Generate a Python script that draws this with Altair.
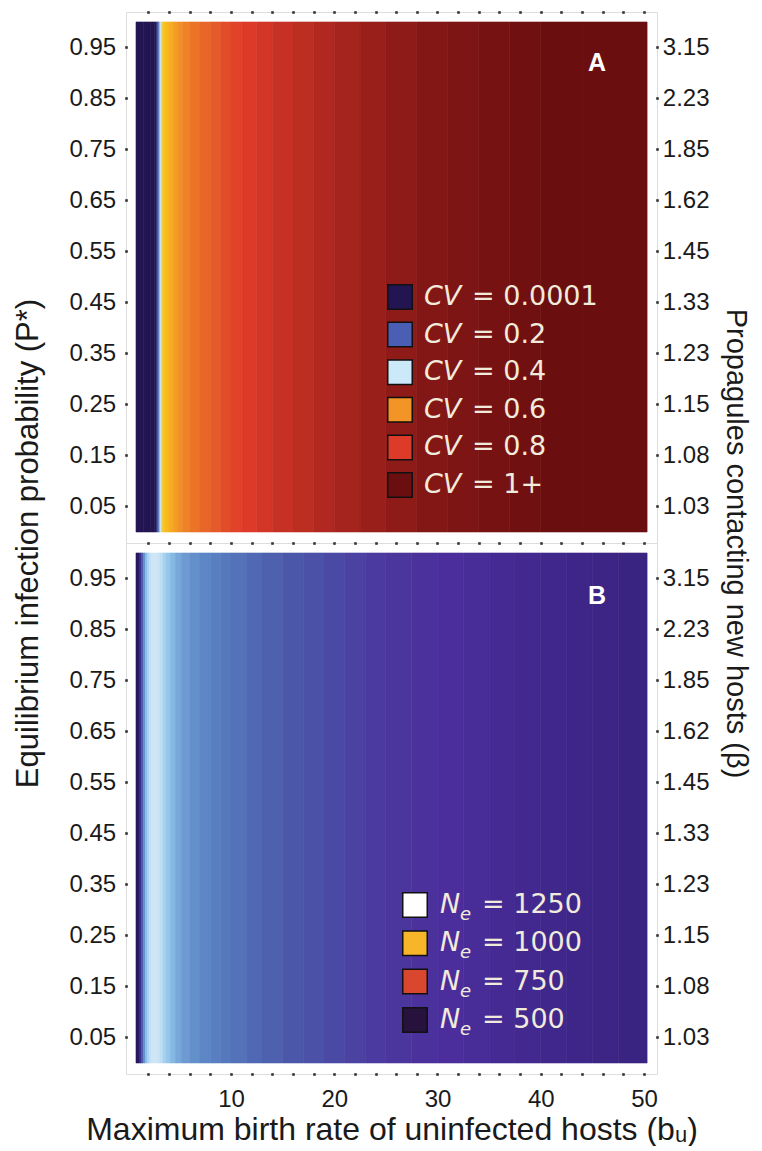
import altair as alt
import pandas as pd

# ---------------- data ----------------
# Panel A: strips of b_u (left/right edges) and the CV read in each strip
bu_edges_A = [0.8, 1.5, 2.2, 2.6, 2.75, 2.85, 2.95, 3.05, 3.15, 3.25, 3.35, 3.5, 3.7,
              4.0, 4.4, 4.8, 5.3, 6.0, 7.0, 8.0, 9.0, 10.0, 11.0, 12.5, 14.0, 16.0,
              18.0, 20.0, 22.5, 25.0, 28.0, 31.0, 34.0, 37.0, 40.0, 44.0, 47.0, 50.3]
cv_A = [0.0001, 0.0001, 0.0001, 0.0001, 0.08, 0.15, 0.22, 0.32, 0.40, 0.46, 0.49, 0.50,
        0.52, 0.55, 0.58, 0.61, 0.64, 0.67, 0.70, 0.73, 0.76, 0.78, 0.80, 0.82, 0.84,
        0.86, 0.88, 0.90, 0.92, 0.94, 0.96, 0.97, 0.98, 0.99, 1.0, 1.0, 1.0]

# Panel B: strips of b_u and the N_e read in each strip
bu_edges_B = [0.8, 1.1, 1.3, 1.5, 1.7, 1.9, 2.1, 2.3, 2.5, 2.8, 3.1, 3.4, 3.7, 4.1, 4.6,
              5.2, 6.0, 7.0, 8.0, 9.0, 10.0, 11.5, 13.0, 15.0, 17.0, 19.0, 21.0, 23.0,
              25.0, 27.5, 30.0, 32.5, 35.0, 37.5, 40.0, 42.5, 45.0, 47.5, 50.3]
ne_B = [500, 560, 700, 820, 930, 1020, 1080, 1110, 1120, 1110, 1070, 1010, 960, 920,
        880, 850, 825, 805, 790, 775, 760, 742, 724, 705, 690, 675, 660, 648, 638, 628,
        620, 610, 600, 590, 582, 574, 567, 560]

p_range = [0.0, 1.0]

ytick_vals = [0.05, 0.15, 0.25, 0.35, 0.45, 0.55, 0.65, 0.75, 0.85, 0.95]
beta_labels = ["1.03", "1.08", "1.15", "1.23", "1.33", "1.45", "1.62", "1.85", "2.23", "3.15"]
xtick_vals = [2, 4, 6, 8, 10, 12, 14, 16, 18, 20, 22, 24, 26, 28, 30, 32, 34, 36, 38,
              40, 42, 44, 46, 48, 50]

cv_legend_vals = [0.0001, 0.2, 0.4, 0.6, 0.8, 1.0]
cv_legend_text = ["0.0001", "0.2", "0.4", "0.6", "0.8", "1+"]
ne_legend_vals = [1250, 1000, 750, 500]
ne_legend_text = ["1250", "1000", "750", "500"]

# ---------------- styling ----------------
FONT = "Liberation Sans"
LFONT = "DejaVu Sans"
W = H = 531
LEG_TXT = "#f1ebdc"

xs = alt.Scale(domain=[-0.17, 51.26], nice=False, zero=False)
ys = alt.Scale(domain=[-0.0216, 1.0196], nice=False, zero=False)

cv_scale = alt.Scale(domain=[0.0001, 0.2, 0.4, 0.5, 0.6, 0.8, 1.0],
                     range=["#231552", "#4a5fb4", "#cbe9f8", "#f8c21e", "#f29426",
                            "#de3a2a", "#6b0e10"], interpolate="rgb")
ne_map_scale = alt.Scale(domain=[500, 560, 620, 700, 800, 950, 1250],
                         range=["#211a5c", "#3a2482", "#4b2d9b", "#4a56a8", "#5a84c4",
                                "#92c6ec", "#ffffff"], interpolate="rgb")
ne_leg_scale = alt.Scale(type="ordinal", domain=ne_legend_vals,
                         range=["#ffffff", "#f7b52a", "#d9482e", "#26123c"])

tick_style = dict(domain=False, grid=False, tickSize=2.6, tickWidth=2.6,
                  tickColor="#333333", offset=-1.3)

beta_expr = "[" + ",".join("'%s'" % b for b in beta_labels) + "][round((datum.value - 0.05) * 10)]"


def left_axis(with_title):
    kw = dict(values=ytick_vals, format=".2f", orient="left", labelFont=FONT,
              labelFontSize=24, labelColor="#1a1a1a", labelPadding=9,
              labelFlush=False, **tick_style)
    if with_title:
        kw.update(title="Equilibrium infection probability (P*)", titleFont=FONT,
                  titleFontSize=31, titleFontWeight="normal", titleColor="#1a1a1a",
                  titleAngle=270, titleX=-99, titleY=H, titleAlign="center",
                  titleBaseline="middle")
    else:
        kw.update(title=None)
    return alt.Axis(**kw)


def right_axis(with_title):
    kw = dict(values=ytick_vals, orient="right", labelExpr=beta_expr, labelFont=FONT,
              labelFontSize=24, labelColor="#1a1a1a", labelPadding=4,
              labelFlush=False, **tick_style)
    if with_title:
        kw.update(title="Propagules contacting new hosts (β)", titleFont=FONT,
                  titleFontSize=29, titleFontWeight="normal", titleColor="#1a1a1a",
                  titleAngle=90, titleX=80, titleY=H, titleAlign="center",
                  titleBaseline="middle")
    else:
        kw.update(title=None)
    return alt.Axis(**kw)


top_axis = alt.Axis(values=xtick_vals, orient="top", labels=False, title=None, **tick_style)
bottom_axis = alt.Axis(values=xtick_vals, orient="bottom", labelFont=FONT, labelFontSize=24,
                       labelColor="#1a1a1a", labelPadding=12, labelFlush=False,
                       labelExpr="datum.value % 10 === 0 ? datum.label : ''",
                       title="Maximum birth rate of uninfected hosts (bᵤ)", titleFont=FONT,
                       titleFontSize=32, titleFontWeight="normal", titleColor="#1a1a1a",
                       titlePadding=3, **tick_style)


def strips(edges, vals, name):
    return pd.DataFrame({"b0": edges[:-1], "b1": edges[1:], name: vals,
                         "p0": p_range[0], "p1": p_range[1]})


dfA = strips(bu_edges_A, cv_A, "cv")
dfB = strips(bu_edges_B, ne_B, "ne")

legA = pd.DataFrame({"cv": cv_legend_vals, "lab": cv_legend_text,
                     "row": list(range(len(cv_legend_vals)))})
legB = pd.DataFrame({"ne": ne_legend_vals, "lab": ne_legend_text,
                     "row": list(range(len(ne_legend_vals)))})

# ---------------- panel A ----------------
heatA = alt.Chart(dfA).mark_rect(strokeWidth=0.6).encode(
    x=alt.X("b0:Q", scale=xs, axis=None),
    x2="b1:Q",
    y=alt.Y("p0:Q", scale=ys, axis=left_axis(True)),
    y2="p1:Q",
    color=alt.Color("cv:Q", scale=cv_scale, legend=None),
    stroke=alt.Stroke("cv:Q", scale=cv_scale, legend=None),
)
hostA = alt.Chart(dfA).mark_point(opacity=0).encode(
    x=alt.X("b0:Q", scale=xs, axis=top_axis),
    y=alt.Y("p0:Q", scale=ys, axis=right_axis(True)),
)
legA_base = alt.Chart(legA).transform_calculate(py="285 + 37.6 * datum.row",
                                               eq="'= ' + datum.lab")
swA = legA_base.mark_square(size=600, stroke="#111111", strokeWidth=1.5, opacity=1).encode(
    x=alt.value(274), y=alt.Y("py:Q", scale=None),
    color=alt.Color("cv:Q", scale=cv_scale, legend=None))
symA = legA_base.mark_text(align="left", baseline="middle", font=LFONT, fontSize=27,
                           fontStyle="italic", color=LEG_TXT).encode(
    x=alt.value(298), y=alt.Y("py:Q", scale=None), text=alt.value("CV"))
txtA = legA_base.mark_text(align="left", baseline="middle", font=LFONT, fontSize=27,
                           color=LEG_TXT).encode(
    x=alt.value(346), y=alt.Y("py:Q", scale=None), text="eq:N")
letA = alt.Chart(pd.DataFrame({"t": ["A"]})).mark_text(
    font=FONT, fontSize=25, fontWeight="bold", color="white", baseline="middle").encode(
    x=alt.value(471), y=alt.value(51), text="t:N")

panelA = alt.layer(heatA, hostA, swA, symA, txtA, letA).resolve_axis(
    x="independent", y="independent").properties(width=W, height=H)

# ---------------- panel B ----------------
heatB = alt.Chart(dfB).mark_rect(strokeWidth=0.6).encode(
    x=alt.X("b0:Q", scale=xs, axis=bottom_axis),
    x2="b1:Q",
    y=alt.Y("p0:Q", scale=ys, axis=left_axis(False)),
    y2="p1:Q",
    color=alt.Color("ne:Q", scale=ne_map_scale, legend=None),
    stroke=alt.Stroke("ne:Q", scale=ne_map_scale, legend=None),
)
hostB = alt.Chart(dfB).mark_point(opacity=0).encode(
    x=alt.X("b0:Q", scale=xs, axis=top_axis),
    y=alt.Y("p0:Q", scale=ys, axis=right_axis(False)),
)
legB_base = alt.Chart(legB).transform_calculate(py="362 + 38.3 * datum.row",
                                               eq="'= ' + datum.lab")
swB = legB_base.mark_square(size=600, stroke="#111111", strokeWidth=1.5, opacity=1).encode(
    x=alt.value(289), y=alt.Y("py:Q", scale=None),
    fill=alt.Fill("ne:O", scale=ne_leg_scale, legend=None))
symB = legB_base.mark_text(align="left", baseline="middle", font=LFONT, fontSize=27,
                           fontStyle="italic", color=LEG_TXT).encode(
    x=alt.value(314), y=alt.Y("py:Q", scale=None), text=alt.value("N"))
subB = legB_base.mark_text(align="left", baseline="middle", font=LFONT, fontSize=18,
                           fontStyle="italic", color=LEG_TXT, dy=10).encode(
    x=alt.value(334), y=alt.Y("py:Q", scale=None), text=alt.value("e"))
txtB = legB_base.mark_text(align="left", baseline="middle", font=LFONT, fontSize=27,
                           color=LEG_TXT).encode(
    x=alt.value(356), y=alt.Y("py:Q", scale=None), text="eq:N")
letB = alt.Chart(pd.DataFrame({"t": ["B"]})).mark_text(
    font=FONT, fontSize=25, fontWeight="bold", color="white", baseline="middle").encode(
    x=alt.value(471), y=alt.value(53), text="t:N")

panelB = alt.layer(heatB, hostB, swB, symB, subB, txtB, letB).resolve_axis(
    x="independent", y="independent").properties(width=W, height=H)

chart = alt.vconcat(panelA, panelB, spacing=0, bounds="flush").resolve_scale(
    color="independent", fill="independent", stroke="independent"
).properties(
    padding={"left": 3, "top": 0, "right": 2, "bottom": 0}
).configure_view(stroke="#9a9a9a", strokeWidth=1).configure(background="white")

chart.save("out.html", embed_options={"renderer": "svg", "actions": False})
